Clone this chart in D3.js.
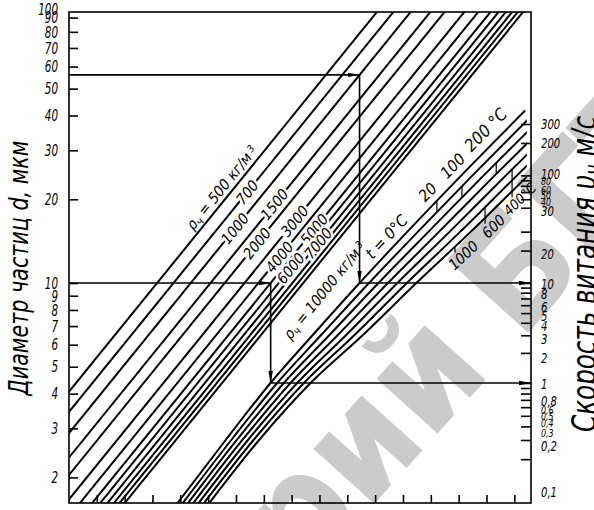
<!DOCTYPE html>
<html>
<head>
<meta charset="utf-8">
<script src="https://cdn.jsdelivr.net/npm/d3@7"></script>
<style>
  body { margin: 0; background: #fff; }
  text { font-family: "DejaVu Sans Condensed", "DejaVu Sans", sans-serif; font-style: italic; fill: #000; }
</style>
</head>
<body>
<div id="chart"></div>
<script>
// left axis: particle diameter d, µm
const dTicks = [2, 3, 4, 5, 6, 7, 8, 9, 10, 20, 30, 40, 50, 60, 70, 80, 90];
const dLabels = [2, 3, 4, 5, 6, 7, 8, 9, 10, 20, 30, 40, 50, 60, 70, 80, 90, 100];

// right axis: settling velocity, m/s
const vTicks = [0.2, 0.3, 0.4, 0.5, 0.6, 0.7, 0.8, 0.9, 1, 2, 3, 4, 5, 6, 7, 8, 9, 10, 20, 30, 50, 60, 70, 80, 90, 100, 200, 300];
const vLabels = [0.1, 0.2, 0.3, 0.4, 0.5, 0.6, 0.8, 1, 2, 3, 4, 5, 6, 8, 10, 20, 30, 40, 50, 60, 80, 100, 200, 300];

// unlabeled bottom scale
const auxTicks = [1, 2, 3, 4, 5, 6, 7, 8, 9, 10, 11, 12, 13, 14, 15, 16];

// particle density lines (position on bottom scale at d = 2 and d = 90)
const densities = [500, 700, 1000, 1500, 2000, 3000, 4000, 5000, 6000, 7000, 8000, 9000, 10000];
const densAtD2  = [-2.50, -1.91, -1.29, -0.58, -0.07, 0.64, 1.14, 1.58, 1.87, 2.13, 2.36, 2.56, 2.75];
const densAtD90 = [10.90, 11.49, 12.11, 12.82, 13.33, 14.04, 14.54, 14.98, 15.27, 15.53, 15.76, 15.96, 16.15];

// gas temperature curves (position on bottom scale for each velocity level)
const temps = [0, 20, 100, 200, 400, 600, 1000];
const curveV = [0.07, 0.3, 1, 3, 10, 30, 100, 400];
const curveAux = [
  [3.74, 5.63, 7.24, 8.75, 10.44, 12.16, 14.10, 16.39],
  [3.93, 5.83, 7.48, 9.05, 10.78, 12.54, 14.50, 16.81],
  [4.12, 6.03, 7.72, 9.35, 11.12, 12.92, 14.90, 17.23],
  [4.31, 6.23, 7.96, 9.65, 11.46, 13.30, 15.30, 17.65],
  [4.50, 6.43, 8.20, 9.95, 11.80, 13.68, 15.70, 18.07],
  [4.69, 6.63, 8.44, 10.25, 12.14, 14.06, 16.10, 18.49],
  [4.88, 6.83, 8.68, 10.55, 12.48, 14.44, 16.50, 18.91]
];

// worked examples drawn with arrows
const examples = [
  { d: 10, rho: 5000, t: 0, v: 1 },
  { d: 56, rho: 1000, t: 0, v: 10 }
];

const W = 594, H = 510;
const box = { x0: 69, x1: 531, y0: 12, y1: 503 };

const svg = d3.select("#chart").append("svg")
  .attr("width", W)
  .attr("height", H);

const yD = d3.scaleLog().domain([10, 90]).range([283, 17.6]);
const yV = d3.scaleLog().domain([0.1, 1, 10, 300]).range([492, 383, 283, 124]);
// the printed velocity labels sit where the original draughtsman put them
const yVLabel = d3.scaleLog()
  .domain([0.1, 0.2, 0.8, 1, 2, 3, 8, 10, 20, 30, 100, 200, 300])
  .range([492, 446, 401, 384, 358, 339, 294, 284, 254, 211, 174, 143, 124]);
const xAux = d3.scaleLinear().domain([0, 16.6]).range([box.x0, box.x1]);

const densScale = densities.map((r, i) =>
  d3.scaleLog().domain([2, 90]).range([densAtD2[i], densAtD90[i]]));
const tempScale = temps.map((t, i) =>
  d3.scaleLog().domain(curveV).range(curveAux[i]));

// watermark
const wm = svg.append("g")
  .attr("transform", "translate(520,342) rotate(-48)")
  .style("font-family", "'Liberation Sans', Arial, sans-serif")
  .style("font-weight", "bold")
  .style("font-size", "150px");
wm.append("text").attr("x", -40).attr("text-anchor", "end")
  .style("font-style", "normal").style("fill", "#cbcbcb").text("Репозиторий");
wm.append("text").attr("x", 0).attr("text-anchor", "start")
  .style("font-style", "normal").style("fill", "#cbcbcb").text("БГТУ");

// clip paths
const defs = svg.append("defs");
defs.append("clipPath").attr("id", "plot")
  .append("rect").attr("x", box.x0).attr("y", box.y0)
  .attr("width", box.x1 - box.x0).attr("height", box.y1 - box.y0);
defs.append("clipPath").attr("id", "temp")
  .append("rect").attr("x", box.x0).attr("y", box.y0)
  .attr("width", xAux(16.45) - box.x0).attr("height", box.y1 - box.y0);

defs.append("marker").attr("id", "arrow")
  .attr("viewBox", "0 0 12 6").attr("refX", 12).attr("refY", 3)
  .attr("markerWidth", 12).attr("markerHeight", 6)
  .attr("markerUnits", "userSpaceOnUse").attr("orient", "auto")
  .append("path").attr("d", "M0,0.8L12,3L0,5.2Z").attr("fill", "#000");

// density lines
const dRange = [1.4, 110];
svg.append("g").attr("clip-path", "url(#plot)")
  .selectAll("line.dens").data(densities).join("line")
  .attr("x1", (r, i) => xAux(densScale[i](dRange[0])))
  .attr("y1", yD(dRange[0]))
  .attr("x2", (r, i) => xAux(densScale[i](dRange[1])))
  .attr("y2", yD(dRange[1]))
  .attr("stroke", "#000").attr("stroke-width", 2);

// temperature curves
const tLine = d3.line()
  .x(d => xAux(d[0]))
  .y(d => yV(d[1]))
  .curve(d3.curveMonotoneX);
svg.append("g").attr("clip-path", "url(#temp)")
  .selectAll("path.temp").data(curveAux).join("path")
  .attr("d", row => tLine(row.map((a, j) => [a, curveV[j]])))
  .attr("fill", "none").attr("stroke", "#000").attr("stroke-width", 2);

// frame
svg.append("rect")
  .attr("x", box.x0).attr("y", box.y0)
  .attr("width", box.x1 - box.x0).attr("height", box.y1 - box.y0)
  .attr("fill", "none").attr("stroke", "#000").attr("stroke-width", 1.6);

// axes
const styleAxis = g => {
  g.select(".domain").remove();
  g.selectAll("line").attr("stroke", "#000").attr("stroke-width", 1.6);
  g.selectAll("text").remove();
};
svg.append("g").attr("transform", `translate(${box.x0},0)`)
  .call(d3.axisRight(yD).tickValues(dTicks).tickSize(9).tickFormat(""))
  .call(styleAxis);
svg.append("g").attr("transform", `translate(${box.x1},0)`)
  .call(d3.axisLeft(yV).tickValues(vTicks).tickSize(10).tickFormat(""))
  .call(styleAxis);
svg.append("g").attr("transform", `translate(0,${box.y1})`)
  .call(d3.axisTop(xAux).tickValues(auxTicks).tickSize(8).tickFormat(""))
  .call(styleAxis);

svg.selectAll("text.dl").data(dLabels).join("text")
  .attr("class", "dl")
  .attr("transform", d => `translate(58,${Math.max(yD(d), 9)}) scale(0.72,1)`)
  .attr("text-anchor", "end").attr("dy", "0.36em")
  .style("font-size", "16px")
  .text(d => d);

svg.selectAll("text.vl").data(vLabels).join("text")
  .attr("class", "vl")
  .attr("transform", d => `translate(541,${yVLabel(d)}) scale(0.8,1)`)
  .attr("text-anchor", "start").attr("dy", "0.36em")
  .style("font-size", d => (d >= 40 && d <= 80) || (d >= 0.3 && d <= 0.6) ? "11px" : "14px")
  .text(d => String(d).replace(".", ","));

// axis titles
svg.append("text")
  .attr("transform", "translate(28,268) rotate(-90)")
  .attr("text-anchor", "middle")
  .attr("textLength", 255).attr("lengthAdjust", "spacingAndGlyphs")
  .style("font-size", "26px")
  .text("Диаметр частиц d, мкм");

const vt = svg.append("text")
  .attr("transform", "translate(596,274) rotate(-90)")
  .attr("text-anchor", "middle")
  .attr("textLength", 316).attr("lengthAdjust", "spacingAndGlyphs")
  .style("font-size", "34px");
vt.append("tspan").text("Скорость витания υ");
vt.append("tspan").attr("baseline-shift", "-25%").style("font-size", "25px").text("ч");
vt.append("tspan").text(" м/с");

// worked examples
const exG = svg.append("g").attr("fill", "none").attr("stroke", "#000").attr("stroke-width", 1.6);
examples.forEach(e => {
  const i = densities.indexOf(e.rho);
  const x = xAux(densScale[i](e.d));
  const y0 = yD(e.d), y1 = yV(e.v);
  exG.append("line").attr("x1", box.x0).attr("y1", y0).attr("x2", x).attr("y2", y0)
    .attr("marker-end", "url(#arrow)");
  exG.append("line").attr("x1", x).attr("y1", y0).attr("x2", x).attr("y2", y1)
    .attr("marker-end", "url(#arrow)");
  exG.append("line").attr("x1", x).attr("y1", y1).attr("x2", box.x1).attr("y2", y1)
    .attr("marker-end", "url(#arrow)");
});

// density labels
const densLabels = [
  { rho: 500, d: 20.9, off: -10, text: ["ρ", "ч", " = 500 кг/м", "3"] },
  { rho: 700, d: 21.2, off: 0, text: ["700"] },
  { rho: 1000, d: 15.7, off: 0, text: ["1000"] },
  { rho: 1500, d: 19.2, off: 0, text: ["1500"] },
  { rho: 2000, d: 13.9, off: 0, text: ["2000"] },
  { rho: 3000, d: 16.7, off: 0, text: ["3000"] },
  { rho: 4000, d: 12.4, off: 0, text: ["4000"] },
  { rho: 5000, d: 15.6, off: 0, text: ["5000"] },
  { rho: 6000, d: 11.3, off: 0, text: ["6000"] },
  { rho: 7000, d: 13.9, off: 0, text: ["7000"] },
  { rho: 10000, d: 10.5, off: 21, text: ["ρ", "ч", " = 10000 кг/м", "3"] }
];
const angleOf = (p, q) => Math.atan2(q[1] - p[1], q[0] - p[0]) * 180 / Math.PI;

densLabels.forEach(l => {
  const i = densities.indexOf(l.rho);
  const pt = dd => [xAux(densScale[i](dd)), yD(dd)];
  const p = pt(l.d);
  const ang = angleOf(pt(l.d / 1.1), pt(l.d * 1.1));
  const t = svg.append("text")
    .attr("transform", `translate(${p[0]},${p[1]}) rotate(${ang})`)
    .attr("text-anchor", "middle")
    .attr("y", l.off).attr("dy", "0.36em")
    .style("font-size", "15px")
    .attr("stroke", "#fff").attr("stroke-width", l.off === 0 ? 5 : 0)
    .attr("paint-order", "stroke");
  l.text.forEach((s, k) => {
    const ts = t.append("tspan").text(s);
    if (k === 1) ts.attr("baseline-shift", "-25%").style("font-size", "11px");
    if (k === 3) ts.attr("baseline-shift", "40%").attr("dx", 3).style("font-size", "10px");
  });
});

// temperature labels
const tempLabels = [
  { t: 0, ref: 0, aux: 11.72, off: -12, size: 16, text: "t = 0°C" },
  { t: 20, ref: 0, aux: 13.22, off: -13, size: 16, text: "20" },
  { t: 100, ref: 0, aux: 14.12, off: -13, size: 16, text: "100" },
  { t: 200, ref: 0, aux: 15.35, off: -15, size: 17, text: "200 °C" },
  { t: 400, ref: 6, aux: 15.92, off: 11, size: 14, text: "400°C" },
  { t: 600, ref: 6, aux: 14.95, off: 12, size: 15, text: "600" },
  { t: 1000, ref: 6, aux: 13.87, off: 12, size: 15, text: "1000" }
];
const lg = svg.append("g").attr("stroke", "#000").attr("stroke-width", 1.2);
tempLabels.forEach(l => {
  const r = l.ref;
  const pt = a => [xAux(a), yV(tempScale[r].invert(a))];
  const p = pt(l.aux);
  const ang = angleOf(pt(l.aux - 0.3), pt(l.aux + 0.3));
  svg.append("text")
    .attr("transform", `translate(${p[0]},${p[1]}) rotate(${ang})`)
    .attr("text-anchor", "middle")
    .attr("y", l.off).attr("dy", "0.36em")
    .style("font-size", l.size + "px")
    .text(l.text);
  const k = temps.indexOf(l.t);
  if (k === 0) return;
  const x = xAux(l.aux);
  const yk = yV(tempScale[k].invert(l.aux));
  const yr = r === 0 ? yV(tempScale[k - 1].invert(l.aux))
                     : yV(tempScale[6].invert(l.aux)) + 6;
  lg.append("line").attr("x1", x).attr("x2", x).attr("y1", yr).attr("y2", yk);
});
</script>
</body>
</html>
